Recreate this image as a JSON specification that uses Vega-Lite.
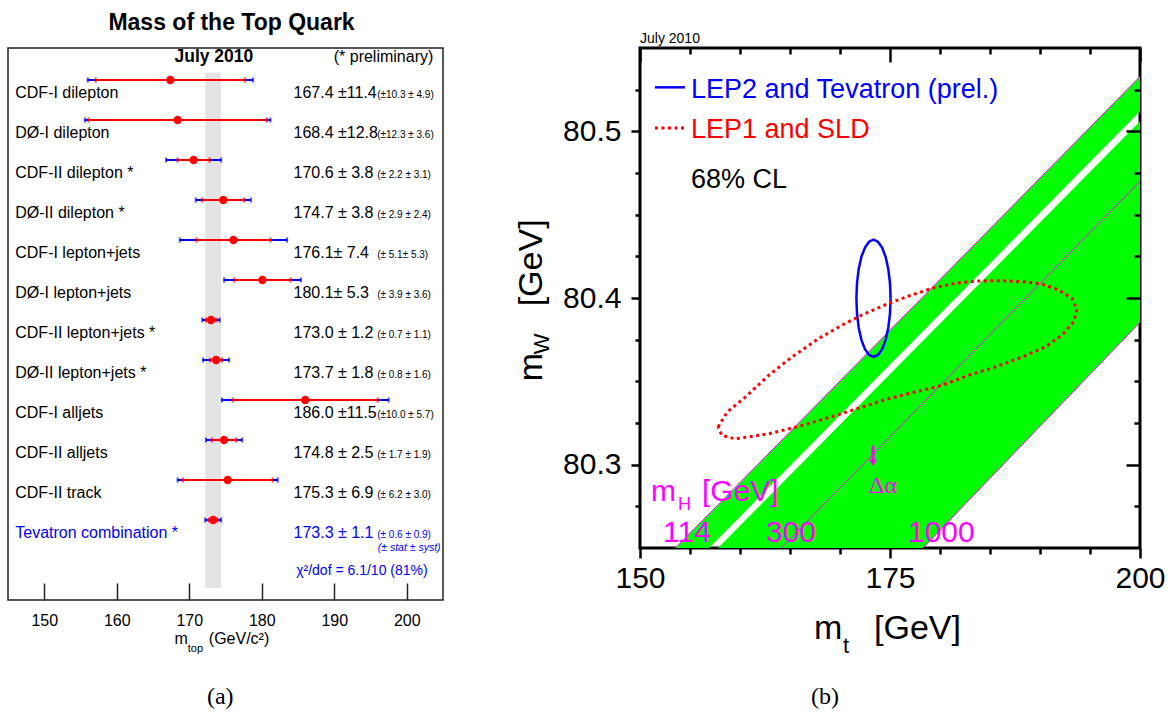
{
  "$schema": "https://vega.github.io/schema/vega-lite/v6.json",
  "background": "white",
  "padding": {"left": 7, "top": 10, "right": 0, "bottom": 0},
  "spacing": 65,
  "config": {"font": "Liberation Sans", "axis": {"labelColor": "black", "tickColor": "black"}},
  "datasets": {
    "meas": [
      {"row": 0, "kind": "single", "name": "CDF-I dilepton", "m": 167.4, "tot": 11.4, "stat": 10.3, "syst": 4.9, "val": "167.4 ±11.4", "sub": "(±10.3 ± 4.9)"},
      {"row": 1, "kind": "single", "name": "DØ-I dilepton", "m": 168.4, "tot": 12.8, "stat": 12.3, "syst": 3.6, "val": "168.4 ±12.8", "sub": "(±12.3 ± 3.6)"},
      {"row": 2, "kind": "single", "name": "CDF-II dilepton *", "m": 170.6, "tot": 3.8, "stat": 2.2, "syst": 3.1, "val": "170.6 ± 3.8", "sub": "(± 2.2 ± 3.1)"},
      {"row": 3, "kind": "single", "name": "DØ-II dilepton *", "m": 174.7, "tot": 3.8, "stat": 2.9, "syst": 2.4, "val": "174.7 ± 3.8", "sub": "(± 2.9 ± 2.4)"},
      {"row": 4, "kind": "single", "name": "CDF-I lepton+jets", "m": 176.1, "tot": 7.4, "stat": 5.1, "syst": 5.3, "val": "176.1± 7.4", "sub": "(± 5.1± 5.3)"},
      {"row": 5, "kind": "single", "name": "DØ-I lepton+jets", "m": 180.1, "tot": 5.3, "stat": 3.9, "syst": 3.6, "val": "180.1± 5.3", "sub": "(± 3.9 ± 3.6)"},
      {"row": 6, "kind": "single", "name": "CDF-II lepton+jets *", "m": 173.0, "tot": 1.2, "stat": 0.7, "syst": 1.1, "val": "173.0 ± 1.2", "sub": "(± 0.7 ± 1.1)"},
      {"row": 7, "kind": "single", "name": "DØ-II lepton+jets *", "m": 173.7, "tot": 1.8, "stat": 0.8, "syst": 1.6, "val": "173.7 ± 1.8", "sub": "(± 0.8 ± 1.6)"},
      {"row": 8, "kind": "single", "name": "CDF-I alljets", "m": 186.0, "tot": 11.5, "stat": 10.0, "syst": 5.7, "val": "186.0 ±11.5", "sub": "(±10.0 ± 5.7)"},
      {"row": 9, "kind": "single", "name": "CDF-II alljets", "m": 174.8, "tot": 2.5, "stat": 1.7, "syst": 1.9, "val": "174.8 ± 2.5", "sub": "(± 1.7 ± 1.9)"},
      {"row": 10, "kind": "single", "name": "CDF-II track", "m": 175.3, "tot": 6.9, "stat": 6.2, "syst": 3.0, "val": "175.3 ± 6.9", "sub": "(± 6.2 ± 3.0)"},
      {"row": 11, "kind": "combined", "name": "Tevatron combination *", "m": 173.3, "tot": 1.1, "stat": 0.6, "syst": 0.9, "val": "173.3 ± 1.1", "sub": "(± 0.6 ± 0.9)"}
    ],
    "notesA": [
      {"x": 189.93, "y": -0.46, "t": "(* preliminary)"},
      {"x": 167.97, "y": 14.1, "t": "m"},
      {"x": 172.7, "y": 14.1, "t": "(GeV/c²)"}
    ],
    "blueEllipse": [
      {"i": 0, "mt": 175.06, "mw": 80.3998}, {"i": 1, "mt": 175.00, "mw": 80.4089}, {"i": 2, "mt": 174.83, "mw": 80.4174},
      {"i": 3, "mt": 174.56, "mw": 80.4247}, {"i": 4, "mt": 174.21, "mw": 80.4303}, {"i": 5, "mt": 173.79, "mw": 80.4338},
      {"i": 6, "mt": 173.35, "mw": 80.4350}, {"i": 7, "mt": 172.91, "mw": 80.4338}, {"i": 8, "mt": 172.50, "mw": 80.4303},
      {"i": 9, "mt": 172.14, "mw": 80.4247}, {"i": 10, "mt": 171.87, "mw": 80.4174}, {"i": 11, "mt": 171.70, "mw": 80.4089},
      {"i": 12, "mt": 171.64, "mw": 80.3998}, {"i": 13, "mt": 171.70, "mw": 80.3907}, {"i": 14, "mt": 171.87, "mw": 80.3822},
      {"i": 15, "mt": 172.14, "mw": 80.3749}, {"i": 16, "mt": 172.50, "mw": 80.3693}, {"i": 17, "mt": 172.91, "mw": 80.3658},
      {"i": 18, "mt": 173.35, "mw": 80.3646}, {"i": 19, "mt": 173.79, "mw": 80.3658}, {"i": 20, "mt": 174.21, "mw": 80.3693},
      {"i": 21, "mt": 174.56, "mw": 80.3749}, {"i": 22, "mt": 174.83, "mw": 80.3822}, {"i": 23, "mt": 175.00, "mw": 80.3907},
      {"i": 24, "mt": 175.06, "mw": 80.3998}
    ],
    "redEllipse": [
      {"i": 1, "mt": 157.80, "mw": 80.3225}, {"i": 2, "mt": 158.70, "mw": 80.3315}, {"i": 3, "mt": 160.53, "mw": 80.3405},
      {"i": 4, "mt": 162.87, "mw": 80.3536}, {"i": 5, "mt": 165.20, "mw": 80.3646}, {"i": 6, "mt": 167.87, "mw": 80.3757},
      {"i": 7, "mt": 170.20, "mw": 80.3837}, {"i": 8, "mt": 172.20, "mw": 80.3898}, {"i": 9, "mt": 174.87, "mw": 80.3968},
      {"i": 10, "mt": 176.87, "mw": 80.4012}, {"i": 11, "mt": 179.20, "mw": 80.4058}, {"i": 12, "mt": 181.53, "mw": 80.4089},
      {"i": 13, "mt": 183.87, "mw": 80.4102}, {"i": 14, "mt": 186.20, "mw": 80.4104}, {"i": 15, "mt": 188.20, "mw": 80.4098},
      {"i": 16, "mt": 190.20, "mw": 80.4084}, {"i": 17, "mt": 191.87, "mw": 80.4048}, {"i": 18, "mt": 193.20, "mw": 80.3998},
      {"i": 19, "mt": 193.70, "mw": 80.3932}, {"i": 20, "mt": 193.37, "mw": 80.3857}, {"i": 21, "mt": 192.20, "mw": 80.3777},
      {"i": 22, "mt": 190.53, "mw": 80.3707}, {"i": 23, "mt": 188.20, "mw": 80.3646}, {"i": 24, "mt": 185.53, "mw": 80.3586},
      {"i": 25, "mt": 182.87, "mw": 80.3536}, {"i": 26, "mt": 180.20, "mw": 80.3476}, {"i": 27, "mt": 177.53, "mw": 80.3436},
      {"i": 28, "mt": 174.87, "mw": 80.3396}, {"i": 29, "mt": 172.20, "mw": 80.3345}, {"i": 30, "mt": 169.53, "mw": 80.3295},
      {"i": 31, "mt": 166.20, "mw": 80.3235}, {"i": 32, "mt": 162.87, "mw": 80.3185}, {"i": 33, "mt": 159.53, "mw": 80.3155},
      {"i": 34, "mt": 158.20, "mw": 80.3175}, {"i": 35, "mt": 157.80, "mw": 80.3225}
    ]
  },
  "hconcat": [
    {
      "width": 435,
      "height": 552,
      "view": {"stroke": "#222222", "strokeWidth": 1.5},
      "resolve": {"axis": {"x": "independent", "y": "independent"}},
      "layer": [
        {
          "data": {"values": [{"lo": 172.2, "hi": 174.4, "top": -0.19, "bottom": 12.7}]},
          "mark": {"type": "rect", "color": "#e3e3e3"},
          "encoding": {
            "x": {"field": "lo", "type": "quantitative", "scale": {"domain": [145, 205], "nice": false, "zero": false},
              "axis": {"orient": "bottom", "values": [150, 160, 170, 180, 190, 200], "format": "d", "tickSize": -17, "tickWidth": 1.5, "tickColor": "#222222", "domain": false, "grid": false, "labelFontSize": 16, "labelPadding": 29, "labelFlush": false, "labelOverlap": false, "title": null, "zindex": 1}},
            "x2": {"field": "hi"},
            "y": {"field": "top", "type": "quantitative", "scale": {"domain": [-0.8, 13], "nice": false, "zero": false, "reverse": true}, "axis": null},
            "y2": {"field": "bottom"}
          }
        },
        {
          "data": {"name": "meas"},
          "mark": {"type": "errorbar", "ticks": true, "color": "#0000ff", "thickness": 2, "size": 5},
          "encoding": {
            "x": {"field": "m", "type": "quantitative", "scale": {"domain": [145, 205], "nice": false, "zero": false}, "axis": null},
            "xError": {"field": "tot"},
            "y": {"field": "row", "type": "quantitative", "scale": {"domain": [-0.8, 13], "nice": false, "zero": false, "reverse": true}, "axis": null}
          }
        },
        {
          "data": {"name": "meas"},
          "mark": {"type": "errorbar", "ticks": true, "color": "#ff0000", "thickness": 2.2, "size": 5},
          "encoding": {
            "x": {"field": "m", "type": "quantitative", "scale": {"domain": [145, 205], "nice": false, "zero": false}, "axis": null},
            "xError": {"field": "stat"},
            "y": {"field": "row", "type": "quantitative", "scale": {"domain": [-0.8, 13], "nice": false, "zero": false, "reverse": true}, "axis": null}
          }
        },
        {
          "data": {"name": "meas"},
          "mark": {"type": "circle", "color": "#ff0000", "size": 70, "opacity": 1},
          "encoding": {
            "x": {"field": "m", "type": "quantitative", "scale": {"domain": [145, 205], "nice": false, "zero": false}, "axis": null},
            "y": {"field": "row", "type": "quantitative", "scale": {"domain": [-0.8, 13], "nice": false, "zero": false, "reverse": true}, "axis": null}
          }
        },
        {
          "data": {"name": "meas"},
          "mark": {"type": "text", "align": "left", "baseline": "alphabetic", "dy": 18, "fontSize": 16},
          "encoding": {
            "x": {"datum": 146.0, "type": "quantitative", "scale": {"domain": [145, 205], "nice": false, "zero": false}, "axis": null},
            "y": {"field": "row", "type": "quantitative", "scale": {"domain": [-0.8, 13], "nice": false, "zero": false, "reverse": true}, "axis": null},
            "text": {"field": "name"},
            "color": {"field": "kind", "type": "nominal", "scale": {"domain": ["single", "combined"], "range": ["#000000", "#0000ff"]}, "legend": null}
          }
        },
        {
          "data": {"name": "meas"},
          "mark": {"type": "text", "align": "left", "baseline": "alphabetic", "dy": 18, "fontSize": 16},
          "encoding": {
            "x": {"datum": 184.38, "type": "quantitative", "scale": {"domain": [145, 205], "nice": false, "zero": false}, "axis": null},
            "y": {"field": "row", "type": "quantitative", "scale": {"domain": [-0.8, 13], "nice": false, "zero": false, "reverse": true}, "axis": null},
            "text": {"field": "val"},
            "color": {"field": "kind", "type": "nominal", "scale": {"domain": ["single", "combined"], "range": ["#000000", "#0000ff"]}, "legend": null}
          }
        },
        {
          "data": {"name": "meas"},
          "mark": {"type": "text", "align": "left", "baseline": "alphabetic", "dy": 18, "fontSize": 10},
          "encoding": {
            "x": {"datum": 195.92, "type": "quantitative", "scale": {"domain": [145, 205], "nice": false, "zero": false}, "axis": null},
            "y": {"field": "row", "type": "quantitative", "scale": {"domain": [-0.8, 13], "nice": false, "zero": false, "reverse": true}, "axis": null},
            "text": {"field": "sub"},
            "color": {"field": "kind", "type": "nominal", "scale": {"domain": ["single", "combined"], "range": ["#000000", "#0000ff"]}, "legend": null}
          }
        },
        {
          "data": {"values": [{"x": 175.83, "y": -1.26, "t": "Mass of the Top Quark"}]},
          "mark": {"type": "text", "align": "center", "baseline": "alphabetic", "fontSize": 23, "fontWeight": "bold", "color": "black"},
          "encoding": {
            "x": {"field": "x", "type": "quantitative", "scale": {"domain": [145, 205], "nice": false, "zero": false}, "axis": null},
            "y": {"field": "y", "type": "quantitative", "scale": {"domain": [-0.8, 13], "nice": false, "zero": false, "reverse": true}, "axis": null},
            "text": {"field": "t"}
          }
        },
        {
          "data": {"values": [{"x": 173.4, "y": -0.45, "t": "July 2010"}]},
          "mark": {"type": "text", "align": "center", "baseline": "alphabetic", "fontSize": 17.5, "fontWeight": "bold", "color": "black"},
          "encoding": {
            "x": {"field": "x", "type": "quantitative", "scale": {"domain": [145, 205], "nice": false, "zero": false}, "axis": null},
            "y": {"field": "y", "type": "quantitative", "scale": {"domain": [-0.8, 13], "nice": false, "zero": false, "reverse": true}, "axis": null},
            "text": {"field": "t"}
          }
        },
        {
          "data": {"name": "notesA"},
          "mark": {"type": "text", "align": "left", "baseline": "alphabetic", "fontSize": 16, "color": "black"},
          "encoding": {
            "x": {"field": "x", "type": "quantitative", "scale": {"domain": [145, 205], "nice": false, "zero": false}, "axis": null},
            "y": {"field": "y", "type": "quantitative", "scale": {"domain": [-0.8, 13], "nice": false, "zero": false, "reverse": true}, "axis": null},
            "text": {"field": "t"}
          }
        },
        {
          "data": {"values": [{"x": 169.8, "y": 14.3, "t": "top"}]},
          "mark": {"type": "text", "align": "left", "baseline": "alphabetic", "fontSize": 11, "color": "black"},
          "encoding": {
            "x": {"field": "x", "type": "quantitative", "scale": {"domain": [145, 205], "nice": false, "zero": false}, "axis": null},
            "y": {"field": "y", "type": "quantitative", "scale": {"domain": [-0.8, 13], "nice": false, "zero": false, "reverse": true}, "axis": null},
            "text": {"field": "t"}
          }
        },
        {
          "data": {"values": [{"x": 196.0, "y": 11.78, "t": "(± stat  ±  syst)"}]},
          "mark": {"type": "text", "align": "left", "baseline": "alphabetic", "fontSize": 10.5, "fontStyle": "italic", "color": "#0000ff"},
          "encoding": {
            "x": {"field": "x", "type": "quantitative", "scale": {"domain": [145, 205], "nice": false, "zero": false}, "axis": null},
            "y": {"field": "y", "type": "quantitative", "scale": {"domain": [-0.8, 13], "nice": false, "zero": false, "reverse": true}, "axis": null},
            "text": {"field": "t"}
          }
        },
        {
          "data": {"values": [{"x": 184.75, "y": 12.38, "t": "χ²/dof = 6.1/10 (81%)"}]},
          "mark": {"type": "text", "align": "left", "baseline": "alphabetic", "fontSize": 14, "color": "#0000ff"},
          "encoding": {
            "x": {"field": "x", "type": "quantitative", "scale": {"domain": [145, 205], "nice": false, "zero": false}, "axis": null},
            "y": {"field": "y", "type": "quantitative", "scale": {"domain": [-0.8, 13], "nice": false, "zero": false, "reverse": true}, "axis": null},
            "text": {"field": "t"}
          }
        },
        {
          "data": {"values": [{"x": 174.27, "y": 15.6, "t": "(a)"}]},
          "mark": {"type": "text", "align": "center", "baseline": "alphabetic", "fontSize": 24, "font": "Liberation Serif", "color": "black"},
          "encoding": {
            "x": {"field": "x", "type": "quantitative", "scale": {"domain": [145, 205], "nice": false, "zero": false}, "axis": null},
            "y": {"field": "y", "type": "quantitative", "scale": {"domain": [-0.8, 13], "nice": false, "zero": false, "reverse": true}, "axis": null},
            "text": {"field": "t"}
          }
        }
      ]
    },
    {
      "width": 500,
      "height": 500,
      "view": {"stroke": "black", "strokeWidth": 3},
      "resolve": {"axis": {"x": "independent", "y": "independent"}},
      "layer": [
        {
          "data": {"values": [
            {"band": "a", "mt": 150, "hi": 80.2284, "lo": 80.208},
            {"band": "a", "mt": 200, "hi": 80.5329, "lo": 80.512},
            {"band": "b", "mt": 150, "hi": 80.2027, "lo": 80.0734},
            {"band": "b", "mt": 200, "hi": 80.506, "lo": 80.3854}
          ]},
          "mark": {"type": "area", "color": "#00ff00", "opacity": 1, "clip": true},
          "encoding": {
            "x": {"field": "mt", "type": "quantitative", "scale": {"domain": [150, 200], "nice": false, "zero": false},
              "axis": {"orient": "bottom", "values": [150, 175, 200], "format": "d", "tickSize": 10, "tickWidth": 2.5, "domain": false, "grid": false, "labelFontSize": 30, "labelPadding": 5, "labelFlush": false, "labelOverlap": false, "title": null, "zindex": 1}},
            "y": {"field": "hi", "type": "quantitative", "scale": {"domain": [80.25, 80.55], "nice": false, "zero": false},
              "axis": {"orient": "left", "values": [80.3, 80.4, 80.5], "format": ".1f", "tickSize": 9, "tickWidth": 2.5, "domain": false, "grid": false, "labelFontSize": 30, "labelPadding": 10, "labelOverlap": false, "title": null, "zindex": 1}},
            "y2": {"field": "lo"},
            "detail": {"field": "band"}
          }
        },
        {
          "data": {"values": [
            {"mh": "114", "mt": 150, "mw": 80.2284}, {"mh": "114", "mt": 200, "mw": 80.5329},
            {"mh": "300", "mt": 150, "mw": 80.1634}, {"mh": "300", "mt": 200, "mw": 80.47},
            {"mh": "1000", "mt": 150, "mw": 80.0734}, {"mh": "1000", "mt": 200, "mw": 80.3854}
          ]},
          "mark": {"type": "line", "color": "#ff00ff", "strokeWidth": 1, "clip": true},
          "encoding": {
            "x": {"field": "mt", "type": "quantitative", "scale": {"domain": [150, 200], "nice": false, "zero": false},
              "axis": {"orient": "bottom", "values": [155, 160, 165, 170, 180, 185, 190, 195], "tickSize": 6, "tickWidth": 2.5, "domain": false, "grid": false, "labels": false, "title": null, "zindex": 1}},
            "y": {"field": "mw", "type": "quantitative", "scale": {"domain": [80.25, 80.55], "nice": false, "zero": false},
              "axis": {"orient": "left", "values": [80.275, 80.325, 80.35, 80.375, 80.425, 80.45, 80.475, 80.525], "tickSize": 5, "tickWidth": 2.5, "domain": false, "grid": false, "labels": false, "title": null, "zindex": 1}},
            "detail": {"field": "mh"}
          }
        },
        {
          "data": {"name": "blueEllipse"},
          "mark": {"type": "line", "color": "#0000ff", "strokeWidth": 2.5},
          "encoding": {
            "x": {"field": "mt", "type": "quantitative", "scale": {"domain": [150, 200], "nice": false, "zero": false},
              "axis": {"orient": "top", "values": [150, 175, 200], "tickSize": -14, "tickWidth": 2.5, "domain": false, "grid": false, "labels": false, "title": null, "zindex": 1}},
            "y": {"field": "mw", "type": "quantitative", "scale": {"domain": [80.25, 80.55], "nice": false, "zero": false},
              "axis": {"orient": "right", "values": [80.3, 80.4, 80.5], "tickSize": -14, "tickWidth": 2.5, "domain": false, "grid": false, "labels": false, "title": null, "zindex": 1}},
            "order": {"field": "i", "type": "quantitative"}
          }
        },
        {
          "data": {"name": "redEllipse"},
          "mark": {"type": "line", "color": "#ff0000", "strokeWidth": 3, "strokeDash": [3, 3.5]},
          "encoding": {
            "x": {"field": "mt", "type": "quantitative", "scale": {"domain": [150, 200], "nice": false, "zero": false},
              "axis": {"orient": "top", "values": [155, 160, 165, 170, 180, 185, 190, 195], "tickSize": -6, "tickWidth": 2.5, "domain": false, "grid": false, "labels": false, "title": null, "zindex": 1}},
            "y": {"field": "mw", "type": "quantitative", "scale": {"domain": [80.25, 80.55], "nice": false, "zero": false},
              "axis": {"orient": "right", "values": [80.275, 80.325, 80.35, 80.375, 80.425, 80.45, 80.475, 80.525], "tickSize": -6, "tickWidth": 2.5, "domain": false, "grid": false, "labels": false, "title": null, "zindex": 1}},
            "order": {"field": "i", "type": "quantitative"}
          }
        },
        {
          "data": {"values": [{"a": 151.5, "b": 154.5, "y": 80.5264}]},
          "mark": {"type": "rule", "color": "#0000ff", "strokeWidth": 2.5},
          "encoding": {
            "x": {"field": "a", "type": "quantitative", "scale": {"domain": [150, 200], "nice": false, "zero": false}, "axis": null},
            "x2": {"field": "b"},
            "y": {"field": "y", "type": "quantitative", "scale": {"domain": [80.25, 80.55], "nice": false, "zero": false}, "axis": null}
          }
        },
        {
          "data": {"values": [{"a": 151.5, "b": 154.5, "y": 80.502}]},
          "mark": {"type": "rule", "color": "#ff0000", "strokeWidth": 3, "strokeDash": [3, 3.5]},
          "encoding": {
            "x": {"field": "a", "type": "quantitative", "scale": {"domain": [150, 200], "nice": false, "zero": false}, "axis": null},
            "x2": {"field": "b"},
            "y": {"field": "y", "type": "quantitative", "scale": {"domain": [80.25, 80.55], "nice": false, "zero": false}, "axis": null}
          }
        },
        {
          "data": {"values": [{"mt": 173.3, "top": 80.3114, "tip": 80.3015}]},
          "mark": {"type": "rule", "color": "#ff00ff", "strokeWidth": 3},
          "encoding": {
            "x": {"field": "mt", "type": "quantitative", "scale": {"domain": [150, 200], "nice": false, "zero": false}, "axis": null},
            "y": {"field": "top", "type": "quantitative", "scale": {"domain": [80.25, 80.55], "nice": false, "zero": false}, "axis": null},
            "y2": {"field": "tip"}
          }
        },
        {
          "data": {"values": [{"mt": 173.3, "mw": 80.3012}]},
          "mark": {"type": "point", "shape": "triangle-down", "filled": true, "size": 55, "color": "#ff00ff", "opacity": 1},
          "encoding": {
            "x": {"field": "mt", "type": "quantitative", "scale": {"domain": [150, 200], "nice": false, "zero": false}, "axis": null},
            "y": {"field": "mw", "type": "quantitative", "scale": {"domain": [80.25, 80.55], "nice": false, "zero": false}, "axis": null}
          }
        },
        {
          "data": {"values": [{"x": 155.1, "y": 80.52, "t": "LEP2 and Tevatron (prel.)"}]},
          "mark": {"type": "text", "align": "left", "baseline": "alphabetic", "fontSize": 27, "color": "#0000ff"},
          "encoding": {
            "x": {"field": "x", "type": "quantitative", "scale": {"domain": [150, 200], "nice": false, "zero": false}, "axis": null},
            "y": {"field": "y", "type": "quantitative", "scale": {"domain": [80.25, 80.55], "nice": false, "zero": false}, "axis": null},
            "text": {"field": "t"}
          }
        },
        {
          "data": {"values": [{"x": 155.1, "y": 80.496, "t": "LEP1 and SLD"}]},
          "mark": {"type": "text", "align": "left", "baseline": "alphabetic", "fontSize": 27, "color": "#ff0000"},
          "encoding": {
            "x": {"field": "x", "type": "quantitative", "scale": {"domain": [150, 200], "nice": false, "zero": false}, "axis": null},
            "y": {"field": "y", "type": "quantitative", "scale": {"domain": [80.25, 80.55], "nice": false, "zero": false}, "axis": null},
            "text": {"field": "t"}
          }
        },
        {
          "data": {"values": [{"x": 155.1, "y": 80.466, "t": "68% CL"}]},
          "mark": {"type": "text", "align": "left", "baseline": "alphabetic", "fontSize": 27, "color": "black"},
          "encoding": {
            "x": {"field": "x", "type": "quantitative", "scale": {"domain": [150, 200], "nice": false, "zero": false}, "axis": null},
            "y": {"field": "y", "type": "quantitative", "scale": {"domain": [80.25, 80.55], "nice": false, "zero": false}, "axis": null},
            "text": {"field": "t"}
          }
        },
        {
          "data": {"values": [
            {"x": 151.1, "y": 80.278, "t": "m"},
            {"x": 156.2, "y": 80.278, "t": "[GeV]"},
            {"x": 152.3, "y": 80.2535, "t": "114"},
            {"x": 162.6, "y": 80.2535, "t": "300"},
            {"x": 176.8, "y": 80.2535, "t": "1000"}
          ]},
          "mark": {"type": "text", "align": "left", "baseline": "alphabetic", "fontSize": 30, "color": "#ff00ff"},
          "encoding": {
            "x": {"field": "x", "type": "quantitative", "scale": {"domain": [150, 200], "nice": false, "zero": false}, "axis": null},
            "y": {"field": "y", "type": "quantitative", "scale": {"domain": [80.25, 80.55], "nice": false, "zero": false}, "axis": null},
            "text": {"field": "t"}
          }
        },
        {
          "data": {"values": [{"x": 153.8, "y": 80.273, "t": "H"}]},
          "mark": {"type": "text", "align": "left", "baseline": "alphabetic", "fontSize": 18, "color": "#ff00ff"},
          "encoding": {
            "x": {"field": "x", "type": "quantitative", "scale": {"domain": [150, 200], "nice": false, "zero": false}, "axis": null},
            "y": {"field": "y", "type": "quantitative", "scale": {"domain": [80.25, 80.55], "nice": false, "zero": false}, "axis": null},
            "text": {"field": "t"}
          }
        },
        {
          "data": {"values": [{"x": 174.3, "y": 80.283, "t": "Δα"}]},
          "mark": {"type": "text", "align": "center", "baseline": "alphabetic", "fontSize": 24, "font": "Liberation Serif", "color": "#ff00ff"},
          "encoding": {
            "x": {"field": "x", "type": "quantitative", "scale": {"domain": [150, 200], "nice": false, "zero": false}, "axis": null},
            "y": {"field": "y", "type": "quantitative", "scale": {"domain": [80.25, 80.55], "nice": false, "zero": false}, "axis": null},
            "text": {"field": "t"}
          }
        },
        {
          "data": {"values": [{"x": 167.4, "y": 80.1954, "t": "m"}, {"x": 173.4, "y": 80.1954, "t": "[GeV]"}]},
          "mark": {"type": "text", "align": "left", "baseline": "alphabetic", "fontSize": 34, "color": "black"},
          "encoding": {
            "x": {"field": "x", "type": "quantitative", "scale": {"domain": [150, 200], "nice": false, "zero": false}, "axis": null},
            "y": {"field": "y", "type": "quantitative", "scale": {"domain": [80.25, 80.55], "nice": false, "zero": false}, "axis": null},
            "text": {"field": "t"}
          }
        },
        {
          "data": {"values": [{"x": 170.3, "y": 80.1868, "t": "t"}]},
          "mark": {"type": "text", "align": "left", "baseline": "alphabetic", "fontSize": 22, "color": "black"},
          "encoding": {
            "x": {"field": "x", "type": "quantitative", "scale": {"domain": [150, 200], "nice": false, "zero": false}, "axis": null},
            "y": {"field": "y", "type": "quantitative", "scale": {"domain": [80.25, 80.55], "nice": false, "zero": false}, "axis": null},
            "text": {"field": "t"}
          }
        },
        {
          "data": {"values": [{"x": 140.2, "y": 80.35, "t": "m"}, {"x": 140.2, "y": 80.395, "t": "[GeV]"}]},
          "mark": {"type": "text", "align": "left", "baseline": "alphabetic", "angle": 270, "fontSize": 34, "color": "black"},
          "encoding": {
            "x": {"field": "x", "type": "quantitative", "scale": {"domain": [150, 200], "nice": false, "zero": false}, "axis": null},
            "y": {"field": "y", "type": "quantitative", "scale": {"domain": [80.25, 80.55], "nice": false, "zero": false}, "axis": null},
            "text": {"field": "t"}
          }
        },
        {
          "data": {"values": [{"x": 140.9, "y": 80.3662, "t": "W"}]},
          "mark": {"type": "text", "align": "left", "baseline": "alphabetic", "angle": 270, "fontSize": 22, "color": "black"},
          "encoding": {
            "x": {"field": "x", "type": "quantitative", "scale": {"domain": [150, 200], "nice": false, "zero": false}, "axis": null},
            "y": {"field": "y", "type": "quantitative", "scale": {"domain": [80.25, 80.55], "nice": false, "zero": false}, "axis": null},
            "text": {"field": "t"}
          }
        },
        {
          "data": {"values": [{"x": 150.0, "y": 80.5531, "t": "July 2010"}]},
          "mark": {"type": "text", "align": "left", "baseline": "alphabetic", "fontSize": 14, "color": "black"},
          "encoding": {
            "x": {"field": "x", "type": "quantitative", "scale": {"domain": [150, 200], "nice": false, "zero": false}, "axis": null},
            "y": {"field": "y", "type": "quantitative", "scale": {"domain": [80.25, 80.55], "nice": false, "zero": false}, "axis": null},
            "text": {"field": "t"}
          }
        },
        {
          "data": {"values": [{"x": 168.5, "y": 80.1562, "t": "(b)"}]},
          "mark": {"type": "text", "align": "center", "baseline": "alphabetic", "fontSize": 24, "font": "Liberation Serif", "color": "black"},
          "encoding": {
            "x": {"field": "x", "type": "quantitative", "scale": {"domain": [150, 200], "nice": false, "zero": false}, "axis": null},
            "y": {"field": "y", "type": "quantitative", "scale": {"domain": [80.25, 80.55], "nice": false, "zero": false}, "axis": null},
            "text": {"field": "t"}
          }
        }
      ]
    }
  ]
}
